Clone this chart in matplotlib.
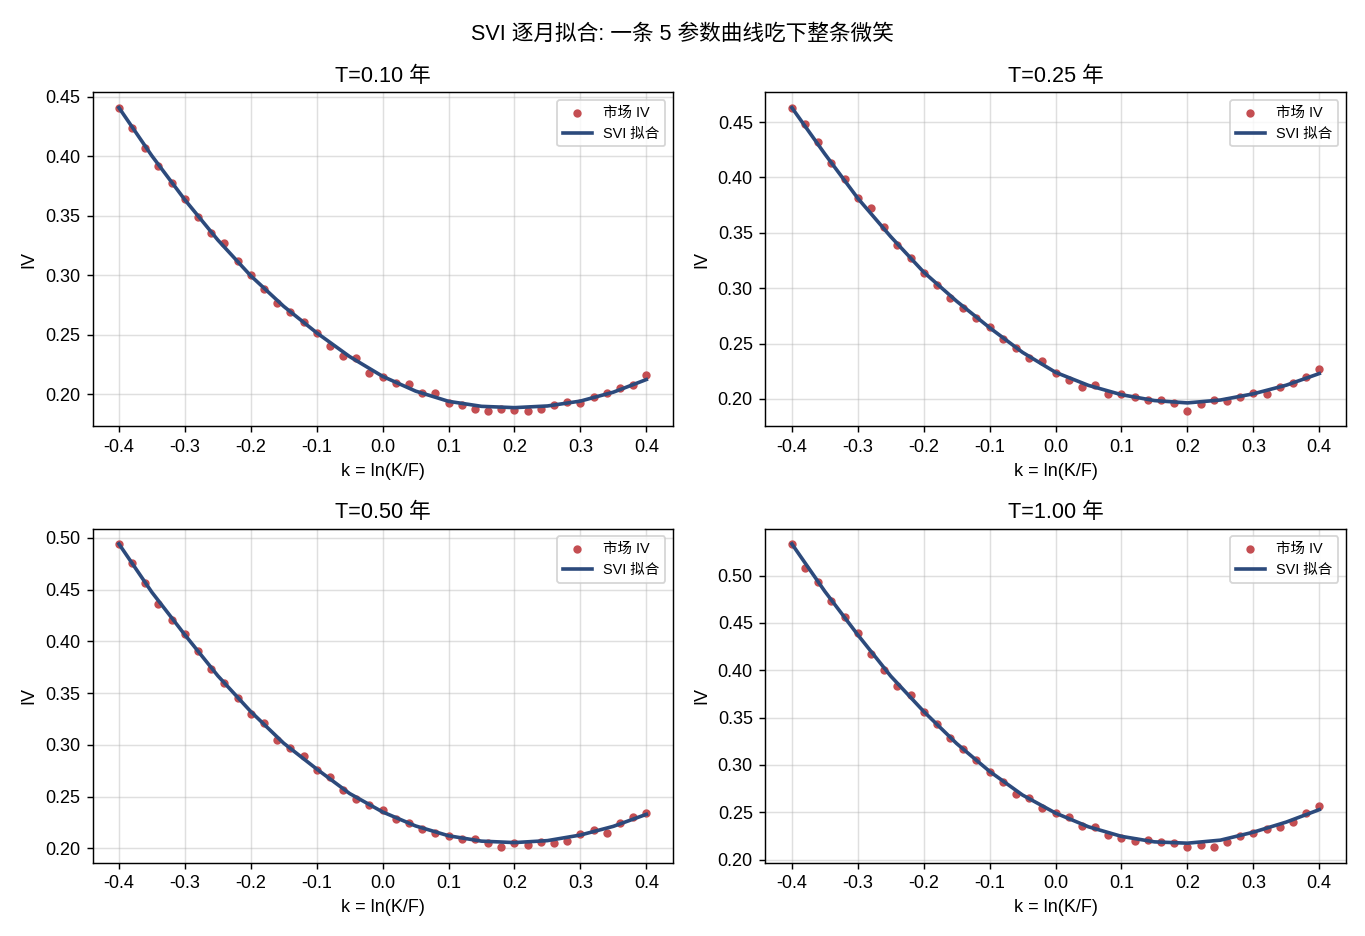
import numpy as np
import matplotlib
matplotlib.use("Agg")
import matplotlib.pyplot as plt

plt.rcParams['font.family'] = ['Liberation Sans', 'Noto Sans CJK SC', 'DejaVu Sans']
plt.rcParams['axes.unicode_minus'] = False

# market strikes (log-moneyness)
k_mkt = [-0.40, -0.38, -0.36, -0.34, -0.32, -0.30, -0.28, -0.26, -0.24, -0.22,
         -0.20, -0.18, -0.16, -0.14, -0.12, -0.10, -0.08, -0.06, -0.04, -0.02,
         0.00, 0.02, 0.04, 0.06, 0.08, 0.10, 0.12, 0.14, 0.16, 0.18,
         0.20, 0.22, 0.24, 0.26, 0.28, 0.30, 0.32, 0.34, 0.36, 0.38, 0.40]

# fitted curve sample points
k_fit = [-0.40, -0.35, -0.30, -0.25, -0.20, -0.15, -0.10, -0.05, 0.00,
         0.05, 0.10, 0.15, 0.20, 0.25, 0.30, 0.35, 0.40]

titles = ["T=0.10 年", "T=0.25 年", "T=0.50 年", "T=1.00 年"]

#market IV per maturity
iv_010 = [0.441, 0.424, 0.407, 0.392, 0.378, 0.364, 0.349, 0.336, 0.327, 0.312,
          0.300, 0.289, 0.277, 0.269, 0.261, 0.252, 0.241, 0.232, 0.231, 0.218,
          0.215, 0.210, 0.209, 0.201, 0.201, 0.193, 0.191, 0.188, 0.186, 0.188,
          0.187, 0.186, 0.188, 0.191, 0.194, 0.193, 0.198, 0.201, 0.205, 0.208, 0.216]
iv_025 = [0.463, 0.448, 0.432, 0.413, 0.399, 0.381, 0.372, 0.355, 0.339, 0.327,
          0.314, 0.303, 0.291, 0.282, 0.273, 0.265, 0.254, 0.246, 0.237, 0.234,
          0.223, 0.217, 0.211, 0.213, 0.204, 0.204, 0.202, 0.199, 0.199, 0.196,
          0.189, 0.195, 0.199, 0.198, 0.202, 0.205, 0.204, 0.211, 0.214, 0.220, 0.227]
iv_050 = [0.494, 0.476, 0.456, 0.436, 0.421, 0.407, 0.391, 0.373, 0.360, 0.345,
          0.330, 0.321, 0.305, 0.297, 0.289, 0.276, 0.269, 0.256, 0.248, 0.242,
          0.237, 0.228, 0.225, 0.219, 0.215, 0.212, 0.209, 0.209, 0.205, 0.201,
          0.205, 0.203, 0.206, 0.205, 0.207, 0.214, 0.218, 0.215, 0.225, 0.230, 0.234]
iv_100 = [0.533, 0.508, 0.493, 0.473, 0.456, 0.439, 0.417, 0.400, 0.383, 0.374,
          0.356, 0.343, 0.328, 0.317, 0.305, 0.293, 0.282, 0.269, 0.265, 0.255,
          0.249, 0.245, 0.236, 0.234, 0.226, 0.223, 0.220, 0.221, 0.219, 0.218,
          0.213, 0.215, 0.213, 0.219, 0.225, 0.228, 0.232, 0.235, 0.240, 0.249, 0.257]

#SVI fitted IV per maturity
fit_010 = [0.4410, 0.4005, 0.3636, 0.3298, 0.2997, 0.2740, 0.2518, 0.2318, 0.2152,
           0.2028, 0.1942, 0.1900, 0.1889, 0.1903, 0.1944, 0.2019, 0.2125]
fit_025 = [0.4630, 0.4212, 0.3812, 0.3465, 0.3145, 0.2882, 0.2643, 0.2420, 0.2240,
           0.2122, 0.2038, 0.1985, 0.1964, 0.1990, 0.2046, 0.2124, 0.2229]
fit_050 = [0.4942, 0.4475, 0.4064, 0.3668, 0.3322, 0.3016, 0.2767, 0.2530, 0.2352,
           0.2217, 0.2122, 0.2070, 0.2056, 0.2075, 0.2129, 0.2213, 0.2329]
fit_100 = [0.5334, 0.4833, 0.4374, 0.3938, 0.3565, 0.3226, 0.2932, 0.2682, 0.2492,
           0.2347, 0.2246, 0.2188, 0.2174, 0.2206, 0.2290, 0.2397, 0.2528]

market = [iv_010, iv_025, iv_050, iv_100]
fitted = [fit_010, fit_025, fit_050, fit_100]

fig, axes = plt.subplots(2, 2, figsize=(10.5, 7.2), dpi=130)
plt.subplots_adjust(left=0.0678, right=0.9858, top=0.9012, bottom=0.0785,
                    wspace=0.160, hspace=0.307)

for ax, title, iv, fit in zip(axes.flat, titles, market, fitted):
    ax.scatter(k_mkt, iv, s=13, color="#c44e52", label="市场 IV", zorder=2)
    ax.plot(k_fit, fit, color="#2c4a7c", linewidth=2, label="SVI 拟合", zorder=3)
    ax.set_title(title, fontsize=12)
    ax.set_xlabel("k = ln(K/F)")
    ax.set_ylabel("IV")
    ax.set_xticks([-0.4, -0.3, -0.2, -0.1, 0.0, 0.1, 0.2, 0.3, 0.4])
    ax.grid(True, alpha=0.4)
    ax.legend(loc="upper right", fontsize=8)

fig.suptitle("SVI 逐月拟合: 一条 5 参数曲线吃下整条微笑", fontsize=12, y=0.975)

plt.savefig("out.png", dpi=130)
